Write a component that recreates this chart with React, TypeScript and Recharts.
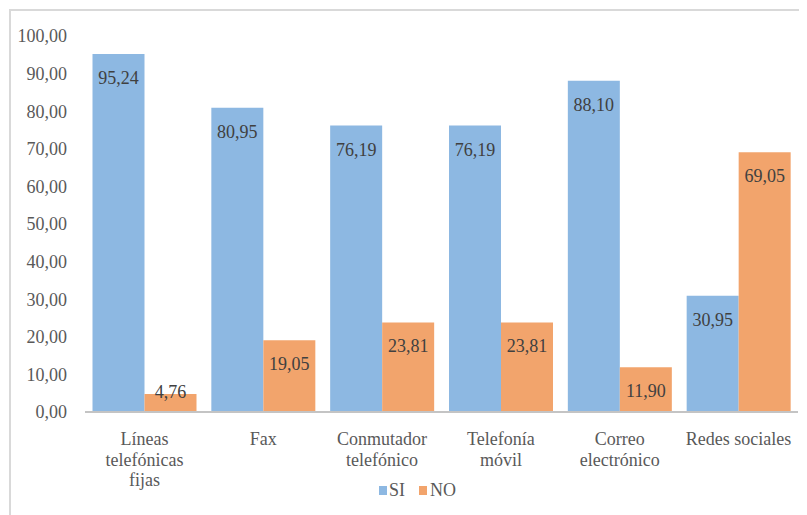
import { BarChart, Bar, XAxis, YAxis, LabelList } from "recharts";

const categories = [
  "Líneas\ntelefónicas\nfijas",
  "Fax",
  "Conmutador\ntelefónico",
  "Telefonía\nmóvil",
  "Correo\nelectrónico",
  "Redes sociales",
];
const siValues = [95.24, 80.95, 76.19, 76.19, 88.1, 30.95];
const noValues = [4.76, 19.05, 23.81, 23.81, 11.9, 69.05];
const yTicks = [0, 10, 20, 30, 40, 50, 60, 70, 80, 90, 100];

const data = categories.map((name, i) => ({
  name,
  si: siValues[i],
  no: noValues[i],
}));

const FONT = '"Liberation Serif", "Times New Roman", serif';
const BLUE = "#8DB8E2";
const ORANGE = "#F2A46C";

const fmt = (v: number) => v.toFixed(2).replace(".", ",");

const CategoryTick = ({ x, y, payload }: any) => {
  const lines = String(payload.value).split("\n");
  return (
    <text
      x={x}
      y={y + 25}
      textAnchor="middle"
      dominantBaseline="central"
      fill="#595959"
      fontSize={18}
      fontFamily={FONT}
    >
      {lines.map((line: string, i: number) => (
        <tspan key={i} x={x} dy={i === 0 ? 0 : 20.7}>
          {line}
        </tspan>
      ))}
    </text>
  );
};

const BarValue = ({ x, y, width, height, value }: any) => {
  const cy = Math.min(y + 24, y + height - 20);
  return (
    <text
      x={x + width / 2}
      y={cy}
      textAnchor="middle"
      dominantBaseline="central"
      fill="#404040"
      fontSize={18}
      fontFamily={FONT}
    >
      {fmt(value)}
    </text>
  );
};

export default function App() {
  return (
    <div style={{ position: "relative", width: 799, height: 507 }}>
      <div
        style={{
          position: "absolute",
          left: 1,
          top: 1,
          width: 798,
          height: 506,
          borderTop: "2px solid #D9D9D9",
          borderLeft: "2px solid #D9D9D9",
          boxSizing: "border-box",
        }}
      />
      <div style={{ position: "absolute", left: 0, top: 0 }}>
        <BarChart
          width={799}
          height={507}
          data={data}
          margin={{ top: 28, right: 9, left: 0, bottom: 33 }}
          barCategoryGap={7.5}
          barGap={0}
        >
          <XAxis
            dataKey="name"
            interval={0}
            tickLine={false}
            tickSize={0}
            height={70}
            axisLine={{ stroke: "#C4C4C4", strokeWidth: 2 }}
            tick={<CategoryTick />}
          />
          <YAxis
            width={77}
            domain={[0, 100]}
            ticks={yTicks}
            interval={0}
            axisLine={false}
            tickLine={false}
            tickSize={0}
            tickMargin={18}
            tickFormatter={fmt}
            tick={{ fill: "#595959", fontSize: 18, fontFamily: FONT }}
          />
          <Bar dataKey="si" fill={BLUE} isAnimationActive={false}>
            <LabelList dataKey="si" content={<BarValue />} />
          </Bar>
          <Bar dataKey="no" fill={ORANGE} isAnimationActive={false}>
            <LabelList dataKey="no" content={<BarValue />} />
          </Bar>
        </BarChart>
      </div>
      <div
        style={{
          position: "absolute",
          left: 371,
          top: 472,
          height: 20,
          display: "flex",
          alignItems: "center",
          fontFamily: FONT,
          fontSize: 18,
          color: "#595959",
          lineHeight: "20px",
        }}
      >
        <span style={{ width: 8, height: 9, background: BLUE, marginRight: 2 }} />
        <span>SI</span>
        <span
          style={{ width: 8, height: 9, background: ORANGE, marginLeft: 14, marginRight: 3 }}
        />
        <span>NO</span>
      </div>
    </div>
  );
}
